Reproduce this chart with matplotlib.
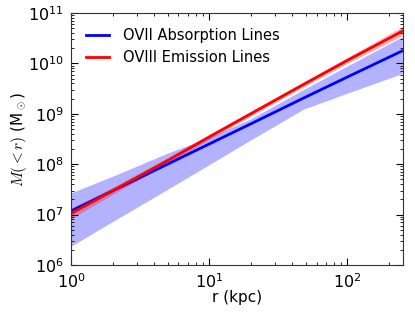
import matplotlib
matplotlib.use("Agg")
import matplotlib.pyplot as plt
import numpy as np

plt.rcParams['mathtext.fontset'] = 'cm'
plt.rcParams['font.family'] = 'DejaVu Sans'

# radius grid (kpc)
r = [1, 2, 5, 10, 20, 48, 100, 250]

# OVII absorption: log10 M, with band
ovii_log = [7.07, 7.47, 8.00, 8.40, 8.80, 9.31, 9.73, 10.25]
ovii_hi = [7.43, 7.76, 8.22, 8.53, 8.90, 9.48, 9.95, 10.53]
ovii_lo = [6.37, 6.86, 7.50, 7.99, 8.48, 9.09, 9.41, 9.80]

# OVIII emission: log10 M, with band
oviii_log = [7.02, 7.47, 8.07, 8.54, 9.00, 9.58, 10.06, 10.64]
oviii_hi = [7.12, 7.54, 8.13, 8.59, 9.05, 9.63, 10.12, 10.73]
oviii_lo = [6.92, 7.40, 8.01, 8.49, 8.95, 9.53, 10.00, 10.55]

fig = plt.figure(figsize=(4.15, 3.12), dpi=100)
ax = fig.add_axes([0.171, 0.151, 0.80, 0.807])

p = lambda v: 10 ** np.array(v)

ax.fill_between(r, p(ovii_lo), p(ovii_hi), color='blue', alpha=0.3, linewidth=0)
ax.fill_between(r, p(oviii_lo), p(oviii_hi), color='red', alpha=0.3, linewidth=0)
ax.plot(r, p(ovii_log), color='blue', linewidth=2, label='OVII Absorption Lines')
ax.plot(r, p(oviii_log), color='red', linewidth=2, label='OVIII Emission Lines')

ax.set_xscale('log')
ax.set_yscale('log')
ax.set_xlim(1, 253)
ax.set_ylim(1e6, 1e11)

ax.tick_params(which='both', direction='in', top=True, right=True, labelsize=11.5)
ax.tick_params(which='major', length=5, pad=5)
ax.tick_params(which='minor', length=2.5)
for s in ax.spines.values():
    s.set_color('#333333')

ax.set_xlabel('r (kpc)', fontsize=11)
ax.set_ylabel(r'$M(<r)$ (M$_\odot$)', fontsize=11)
ax.xaxis.set_label_coords(0.5, -0.099)
ax.yaxis.set_label_coords(-0.125, 0.5)
ax.legend(loc='upper left', frameon=False, fontsize=10.5,
          handlelength=1.6, handletextpad=1.0, borderaxespad=0.6)

fig.savefig('out.png', dpi=100)
